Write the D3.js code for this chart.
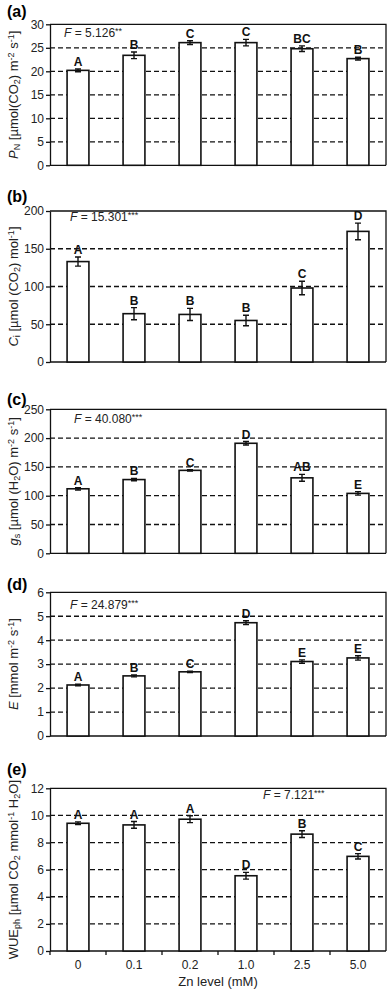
<!DOCTYPE html>
<html>
<head>
<meta charset="utf-8">
<script src="https://cdn.jsdelivr.net/npm/d3@7"></script>
<style>
  body { margin: 0; background: #fff; }
  svg { display: block; font-family: "Liberation Sans", Arial, sans-serif; }
  .grid line { stroke: #111; stroke-width: 1.3; stroke-dasharray: 5 3; }
  .bar { fill: #fff; stroke: #111; stroke-width: 1.6; }
  .err { stroke: #111; stroke-width: 1.4; fill: none; }
  .axis path, .axis line { stroke: #111; stroke-width: 1.3; }
  .axis text { font-size: 12px; fill: #222; }
</style>
</head>
<body>
<div id="chart"></div>
<script>
// Zn treatments
var znLevels = ["0", "0.1", "0.2", "1.0", "2.5", "5.0"];

// (a) net photosynthetic rate
var pnMean = [20.2, 23.4, 26.1, 26.1, 24.8, 22.7];
var pnErr = [0.3, 0.7, 0.4, 0.7, 0.6, 0.3];
var pnLetters = ["A", "B", "C", "C", "BC", "B"];
var pnTicks = [0, 5, 10, 15, 20, 25, 30];

// (b) intercellular CO2
var ciMean = [133, 64, 63, 55, 98, 173];
var ciErr = [6, 8, 8, 7, 9, 11];
var ciLetters = ["A", "B", "B", "B", "C", "D"];
var ciTicks = [0, 50, 100, 150, 200];

// (c) stomatal conductance
var gsMean = [112, 128, 144, 191, 131, 104];
var gsErr = [2, 2, 1, 3, 6, 3];
var gsLetters = ["A", "B", "C", "D", "AB", "E"];
var gsTicks = [0, 50, 100, 150, 200, 250];

// (d) transpiration
var eMean = [2.13, 2.51, 2.68, 4.73, 3.11, 3.26];
var eErr = [0.03, 0.04, 0.03, 0.08, 0.07, 0.09];
var eLetters = ["A", "B", "C", "D", "E", "E"];
var eTicks = [0, 1, 2, 3, 4, 5, 6];

// (e) water use efficiency
var wueMean = [9.42, 9.3, 9.72, 5.55, 8.62, 6.98];
var wueErr = [0.1, 0.25, 0.25, 0.25, 0.25, 0.2];
var wueLetters = ["A", "A", "A", "D", "B", "C"];
var wueTicks = [0, 2, 4, 6, 8, 10, 12];

var width = 388, height = 992;
var left = 50, right = 386;

var svg = d3.select("#chart").append("svg")
    .attr("width", width)
    .attr("height", height);

var x = d3.scaleBand()
    .domain(znLevels)
    .range([left, right])
    .paddingInner(0.61)
    .paddingOuter(0.305);

// label pieces: [text, kind]  kind: n normal, i italic, sub, sup
var panels = [
    { tag: "(a)", tagY: 17, top: 24.3, bottom: 165.3, mean: pnMean, err: pnErr, letters: pnLetters, ticks: pnTicks,
      f: "5.126", stars: "**", fx: 64, fy: 37,
      label: [["P", "i"], ["N", "sub"], [" [µmol(CO", "n"], ["2", "sub"], [") m", "n"], ["-2", "sup"], [" s", "n"], ["-1", "sup"], ["]", "n"]] },
    { tag: "(b)", tagY: 202, top: 211, bottom: 362, mean: ciMean, err: ciErr, letters: ciLetters, ticks: ciTicks,
      f: "15.301", stars: "***", fx: 70, fy: 221,
      label: [["C", "i"], ["i", "sub"], [" [µmol (CO", "n"], ["2", "sub"], [") mol", "n"], ["-1", "sup"], ["]", "n"]] },
    { tag: "(c)", tagY: 405, top: 409.3, bottom: 553.3, mean: gsMean, err: gsErr, letters: gsLetters, ticks: gsTicks,
      f: "40.080", stars: "***", fx: 74, fy: 423,
      label: [["g", "i"], ["s", "sub"], [" [µmol (H", "n"], ["2", "sub"], ["O) m", "n"], ["-2", "sup"], [" s", "n"], ["-1", "sup"], ["]", "n"]] },
    { tag: "(d)", tagY: 590, top: 592.3, bottom: 736, mean: eMean, err: eErr, letters: eLetters, ticks: eTicks,
      f: "24.879", stars: "***", fx: 70, fy: 609,
      label: [["E", "i"], [" [mmol m", "n"], ["-2", "sup"], [" s", "n"], ["-1", "sup"], ["]", "n"]] },
    { tag: "(e)", tagY: 775, top: 788.3, bottom: 951, mean: wueMean, err: wueErr, letters: wueLetters, ticks: wueTicks,
      f: "7.121", stars: "***", fx: 263, fy: 799, xaxis: true,
      label: [["WUE", "n"], ["ph", "sub"], [" [µmol CO", "n"], ["2", "sub"], [" mmol", "n"], ["-1", "sup"], [" H", "n"], ["2", "sub"], ["O]", "n"]] }
];

function addRich(textSel, parts) {
    parts.forEach(function (p) {
        var t = textSel.append("tspan").text(p[0]);
        if (p[1] === "i") t.style("font-style", "italic");
        if (p[1] === "sub") t.attr("baseline-shift", "-25%").style("font-size", "9px");
        if (p[1] === "sup") t.attr("baseline-shift", "45%").style("font-size", "9px");
    });
}

panels.forEach(function (p) {
    var ticks = p.ticks;
    var y = d3.scaleLinear()
        .domain([0, ticks[ticks.length - 1]])
        .range([p.bottom, p.top]);

    var g = svg.append("g");

    // panel tag
    g.append("text")
        .attr("x", 7)
        .attr("y", p.tagY)
        .style("font-size", "16px")
        .style("font-weight", "bold")
        .text(p.tag);

    // dashed grid
    g.append("g").attr("class", "grid")
        .selectAll("line")
        .data(ticks.slice(1, -1))
        .enter().append("line")
        .attr("x1", left).attr("x2", right)
        .attr("y1", function (d) { return y(d); })
        .attr("y2", function (d) { return y(d); });

    // frame top/right
    g.append("path")
        .attr("d", "M" + left + "," + p.top + "H" + right + "V" + p.bottom)
        .attr("fill", "none")
        .attr("stroke", "#111")
        .attr("stroke-width", 1.3);

    // y axis
    g.append("g").attr("class", "axis")
        .attr("transform", "translate(" + left + ",0)")
        .call(d3.axisLeft(y).tickValues(ticks).tickFormat(d3.format("d"))
            .tickSize(4).tickSizeOuter(0).tickPadding(2));

    // x axis
    var xa = g.append("g").attr("class", "axis")
        .attr("transform", "translate(0," + p.bottom + ")");
    xa.append("line")
        .attr("x1", left).attr("x2", right)
        .attr("stroke", "#111").attr("stroke-width", 1.3);

    if (p.xaxis) {
        var step = x.step();
        var edges = znLevels.map(function (d) { return x(d) + x.bandwidth() / 2 - step / 2; });
        xa.selectAll("line.xt")
            .data(edges)
            .enter().append("line")
            .attr("class", "xt")
            .attr("x1", function (d) { return d; })
            .attr("x2", function (d) { return d; })
            .attr("y1", 0).attr("y2", 4)
            .attr("stroke", "#111").attr("stroke-width", 1.3);
        xa.selectAll("text.xl")
            .data(znLevels)
            .enter().append("text")
            .attr("class", "xl")
            .attr("x", function (d) { return x(d) + x.bandwidth() / 2; })
            .attr("y", 18)
            .attr("text-anchor", "middle")
            .text(function (d) { return d; });
        g.append("text")
            .attr("x", (left + right) / 2)
            .attr("y", 986)
            .attr("text-anchor", "middle")
            .style("font-size", "13px")
            .style("fill", "#222")
            .text("Zn level (mM)");
    }

    var rows = znLevels.map(function (z, i) {
        return { z: z, v: p.mean[i], e: p.err[i], l: p.letters[i] };
    });

    // bars
    g.selectAll("rect.bar")
        .data(rows)
        .enter().append("rect")
        .attr("class", "bar")
        .attr("x", function (d) { return x(d.z); })
        .attr("y", function (d) { return y(d.v); })
        .attr("width", x.bandwidth())
        .attr("height", function (d) { return p.bottom - y(d.v); });

    // error bars
    var eb = g.selectAll("g.eb")
        .data(rows)
        .enter().append("g")
        .attr("class", "err")
        .attr("transform", function (d) { return "translate(" + (x(d.z) + x.bandwidth() / 2) + ",0)"; });
    eb.append("path")
        .attr("d", function (d) {
            var t = y(d.v + d.e), b = y(d.v - d.e);
            return "M0," + t + "V" + b + "M-3,"  + t + "H3M-3," + b + "H3";
        });

    // significance letters
    g.selectAll("text.let")
        .data(rows)
        .enter().append("text")
        .attr("class", "let")
        .attr("x", function (d) { return x(d.z) + x.bandwidth() / 2; })
        .attr("y", function (d) { return y(d.v + d.e) - 3; })
        .attr("text-anchor", "middle")
        .style("font-size", "12px")
        .style("font-weight", "bold")
        .style("fill", "#111")
        .text(function (d) { return d.l; });

    // F statistic
    var ft = g.append("text")
        .attr("x", p.fx)
        .attr("y", p.fy)
        .style("font-size", "12px")
        .style("fill", "#222");
    ft.append("tspan").style("font-style", "italic").text("F");
    ft.append("tspan").text(" = " + p.f);
    ft.append("tspan").attr("baseline-shift", "30%").style("font-size", "9px").text(p.stars);

    // y label
    var yl = g.append("text")
        .attr("transform", "translate(18," + ((p.top + p.bottom) / 2) + ") rotate(-90)")
        .attr("text-anchor", "middle")
        .style("font-size", "13px")
        .style("fill", "#222");
    addRich(yl, p.label);
});
</script>
</body>
</html>
